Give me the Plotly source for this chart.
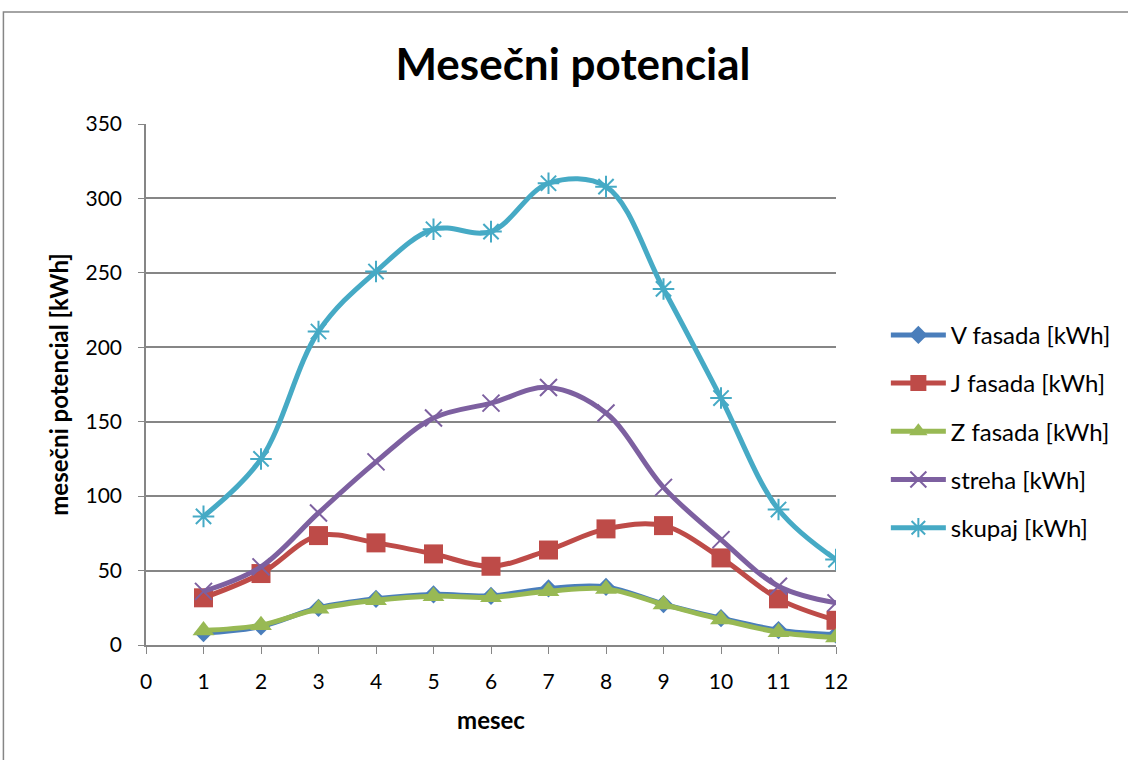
import plotly.graph_objects as go

months = [1, 2, 3, 4, 5, 6, 7, 8, 9, 10, 11, 12]
v_fasada = [8, 12.5, 25, 31, 34, 33, 38, 39, 27.5, 18, 10, 7]
j_fasada = [31.7, 48, 73.5, 68.6, 61.2, 52.9, 63.8, 78, 80.2, 58.5, 31, 16.6]
z_fasada = [9.7, 13.3, 24.3, 30, 32.8, 32, 36.1, 37.7, 27.2, 17.1, 8.6, 5]
streha = [36, 52.5, 88.7, 123, 152.5, 162.5, 173, 155.8, 105.9, 70.8, 39.5, 28.3]
skupaj = [86.4, 125, 210.6, 250.9, 279.3, 277.7, 310.2, 307.9, 239.2, 165.9, 91, 57.4]

names = ["V fasada [kWh]", "J fasada [kWh]", "Z fasada [kWh]", "streha [kWh]", "skupaj [kWh]"]
series = [v_fasada, j_fasada, z_fasada, streha, skupaj]
colors = ["#4A7EBB", "#BE4B48", "#98B954", "#7D60A0", "#46AAC5"]
symbols = ["diamond", "square", "triangle-up", "x-thin-open", "asterisk-open"]
msizes = [14, 19, 19, 17, 18]

FONT = "Lato"

fig = go.Figure()
for i, (nm, ys, c, s, ms) in enumerate(zip(names, series, colors, symbols, msizes)):
    fig.add_trace(go.Scatter(
        x=months, y=ys, name=nm, mode="lines+markers",
        line=dict(color=c, width=5, shape="spline", smoothing=1),
        marker=dict(symbol=s, size=ms, color=c, line=dict(color=c, width=2 if "open" in s else 0)),
        legendgroup=str(i),
    ))

L, R, T, B = 146, 290, 124, 114.5
W, H = 1128, 760
pw = W - L - R
ph = H - T - B

def px_x(x):
    return (x - L) / pw

def px_y(y):
    return (H - B - y) / ph

fig.update_layout(
    width=W, height=H,
    margin=dict(l=L, r=R, t=T, b=B),
    paper_bgcolor="white", plot_bgcolor="white",
    font=dict(family=FONT, size=21, color="black"),
    title=dict(text="<b>Mesečni potencial</b>", x=573 / W, xanchor="center",
               y=1 - 65 / H, yanchor="middle", font=dict(size=44, family=FONT)),
    xaxis=dict(range=[0, 12], dtick=1, tick0=0, showgrid=False, zeroline=False,
               showline=True, linecolor="#868686", linewidth=1.5,
               ticks="outside", ticklen=7, tickcolor="#868686", ticklabelstandoff=10,
               automargin=False,
               title=dict(text="<b>mesec</b>", font=dict(size=24), standoff=20)),
    yaxis=dict(range=[0, 350], dtick=50, showgrid=True, gridcolor="#868686", gridwidth=1.5,
               zeroline=False, showline=True, linecolor="#868686", linewidth=1.5,
               ticks="outside", ticklen=6, tickcolor="#868686", ticklabelstandoff=12,
               automargin=False,
               title=dict(text="<b>mesečni potencial [kWh]</b>", font=dict(size=24), standoff=10)),
    legend=dict(x=px_x(888), xanchor="left", y=px_y(313), yanchor="top",
                font=dict(size=24, family=FONT), tracegroupgap=14, itemwidth=55,
                bgcolor="rgba(0,0,0,0)"),
    shapes=[dict(type="rect", xref="paper", yref="paper",
                 x0=px_x(3), x1=px_x(1140), y0=px_y(775), y1=px_y(12),
                 line=dict(color="#868686", width=1.5), fillcolor="rgba(0,0,0,0)", layer="below")],
)

fig.write_html("out.html", config={"displayModeBar": False},
               post_script="document.body.style.margin='0';document.body.style.overflow='hidden';")
